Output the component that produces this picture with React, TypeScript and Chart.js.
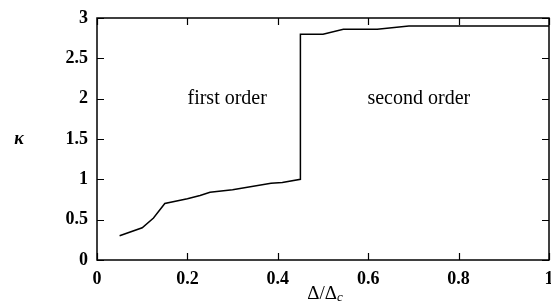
import React, { useEffect, useRef } from "react";
import { Chart, registerables } from "chart.js";

Chart.register(...registerables);

const deltaRatio = [0.05, 0.1, 0.125, 0.15, 0.2, 0.228, 0.25, 0.3, 0.385, 0.41, 0.45, 0.45, 0.5, 0.545, 0.62, 0.69, 1.0];
const kappa = [0.3, 0.4, 0.52, 0.7, 0.76, 0.8, 0.84, 0.87, 0.95, 0.96, 1.0, 2.8, 2.8, 2.86, 2.86, 2.9, 2.9];
const xTickLabels = ["0", "0.2", "0.4", "0.6", "0.8", "1"];
const yTickLabels = ["0", "0.5", "1", "1.5", "2", "2.5", "3"];
const annotations = [
  { text: "first order", x: 0.288, y: 2.0 },
  { text: "second order", x: 0.712, y: 2.0 },
];

const FONT = "'Liberation Serif', serif";

const framePlugin = {
  id: "frame",
  afterDraw(chart: any) {
    const { ctx, chartArea: a, scales } = chart;
    const xs = scales.x, ys = scales.y;
    ctx.save();
    ctx.strokeStyle = "#000";
    ctx.lineWidth = 1.5;
    ctx.strokeRect(a.left, a.top, a.right - a.left, a.bottom - a.top);
    const tl = 7;
    ctx.lineWidth = 1.2;
    ctx.beginPath();
    xs.ticks.forEach((t: any) => {
      const px = Math.round(xs.getPixelForValue(t.value)) + 0.5;
      ctx.moveTo(px, a.bottom); ctx.lineTo(px, a.bottom - tl);
      ctx.moveTo(px, a.top); ctx.lineTo(px, a.top + tl);
    });
    ys.ticks.forEach((t: any) => {
      const py = Math.round(ys.getPixelForValue(t.value)) + 0.5;
      ctx.moveTo(a.left, py); ctx.lineTo(a.left + tl, py);
      ctx.moveTo(a.right, py); ctx.lineTo(a.right - tl, py);
    });
    ctx.stroke();
    ctx.fillStyle = "#000";
    ctx.textBaseline = "middle";
    ctx.textAlign = "center";
    ctx.font = `20px ${FONT}`;
    annotations.forEach((n) => {
      ctx.fillText(n.text, xs.getPixelForValue(n.x), ys.getPixelForValue(n.y));
    });
    // y title
    ctx.font = `italic bold 18px ${FONT}`;
    ctx.fillText("κ", 19, (a.top + a.bottom) / 2);
    // x title
    ctx.font = `19px ${FONT}`;
    const main = "Δ/Δ";
    const w = ctx.measureText(main).width;
    ctx.font = `italic 13px ${FONT}`;
    const ws = ctx.measureText("c").width;
    const cx = (a.left + a.right) / 2 + 2;
    const start = cx - (w + ws) / 2;
    ctx.textAlign = "left";
    ctx.font = `19px ${FONT}`;
    ctx.fillText(main, start, 294);
    ctx.font = `italic 13px ${FONT}`;
    ctx.fillText("c", start + w, 298);
    ctx.restore();
  },
};

export default function App() {
  const ref = useRef<HTMLCanvasElement>(null);
  useEffect(() => {
    document.body.style.margin = "0";
    const chart = new Chart(ref.current!, {
      type: "line",
      data: {
        datasets: [
          {
            data: deltaRatio.map((x, i) => ({ x, y: kappa[i] })),
            borderColor: "#000",
            borderWidth: 1.5,
            pointRadius: 0,
            tension: 0,
            fill: false,
          },
        ],
      },
      options: {
        animation: false,
        responsive: false,
        layout: { padding: { top: 18, right: 2, left: 0, bottom: 0 } },
        plugins: { legend: { display: false }, tooltip: { enabled: false } },
        scales: {
          x: {
            type: "linear",
            min: 0,
            max: 1,
            afterFit: (s: any) => { s.height = 45; s.paddingRight = 0; s.paddingLeft = 0; },
            grid: { display: false, drawTicks: false },
            border: { display: false },
            ticks: {
              stepSize: 0.2,
              padding: 9,
              color: "#000",
              font: { family: FONT, size: 18, weight: "bold" },
              callback: (_v: any, i: number) => xTickLabels[i],
              maxRotation: 0,
            },
          },
          y: {
            type: "linear",
            min: 0,
            max: 3,
            afterFit: (s: any) => { s.width = 97; s.paddingTop = 0; s.paddingBottom = 0; },
            grid: { display: false, drawTicks: false },
            border: { display: false },
            ticks: {
              stepSize: 0.5,
              padding: 9,
              color: "#000",
              font: { family: FONT, size: 18, weight: "bold" },
              callback: (_v: any, i: number) => yTickLabels[i],
            },
          },
        },
      },
      plugins: [framePlugin],
    });
    return () => chart.destroy();
  }, []);
  return <canvas ref={ref} width={551} height={305} style={{ display: "block" }} />;
}
